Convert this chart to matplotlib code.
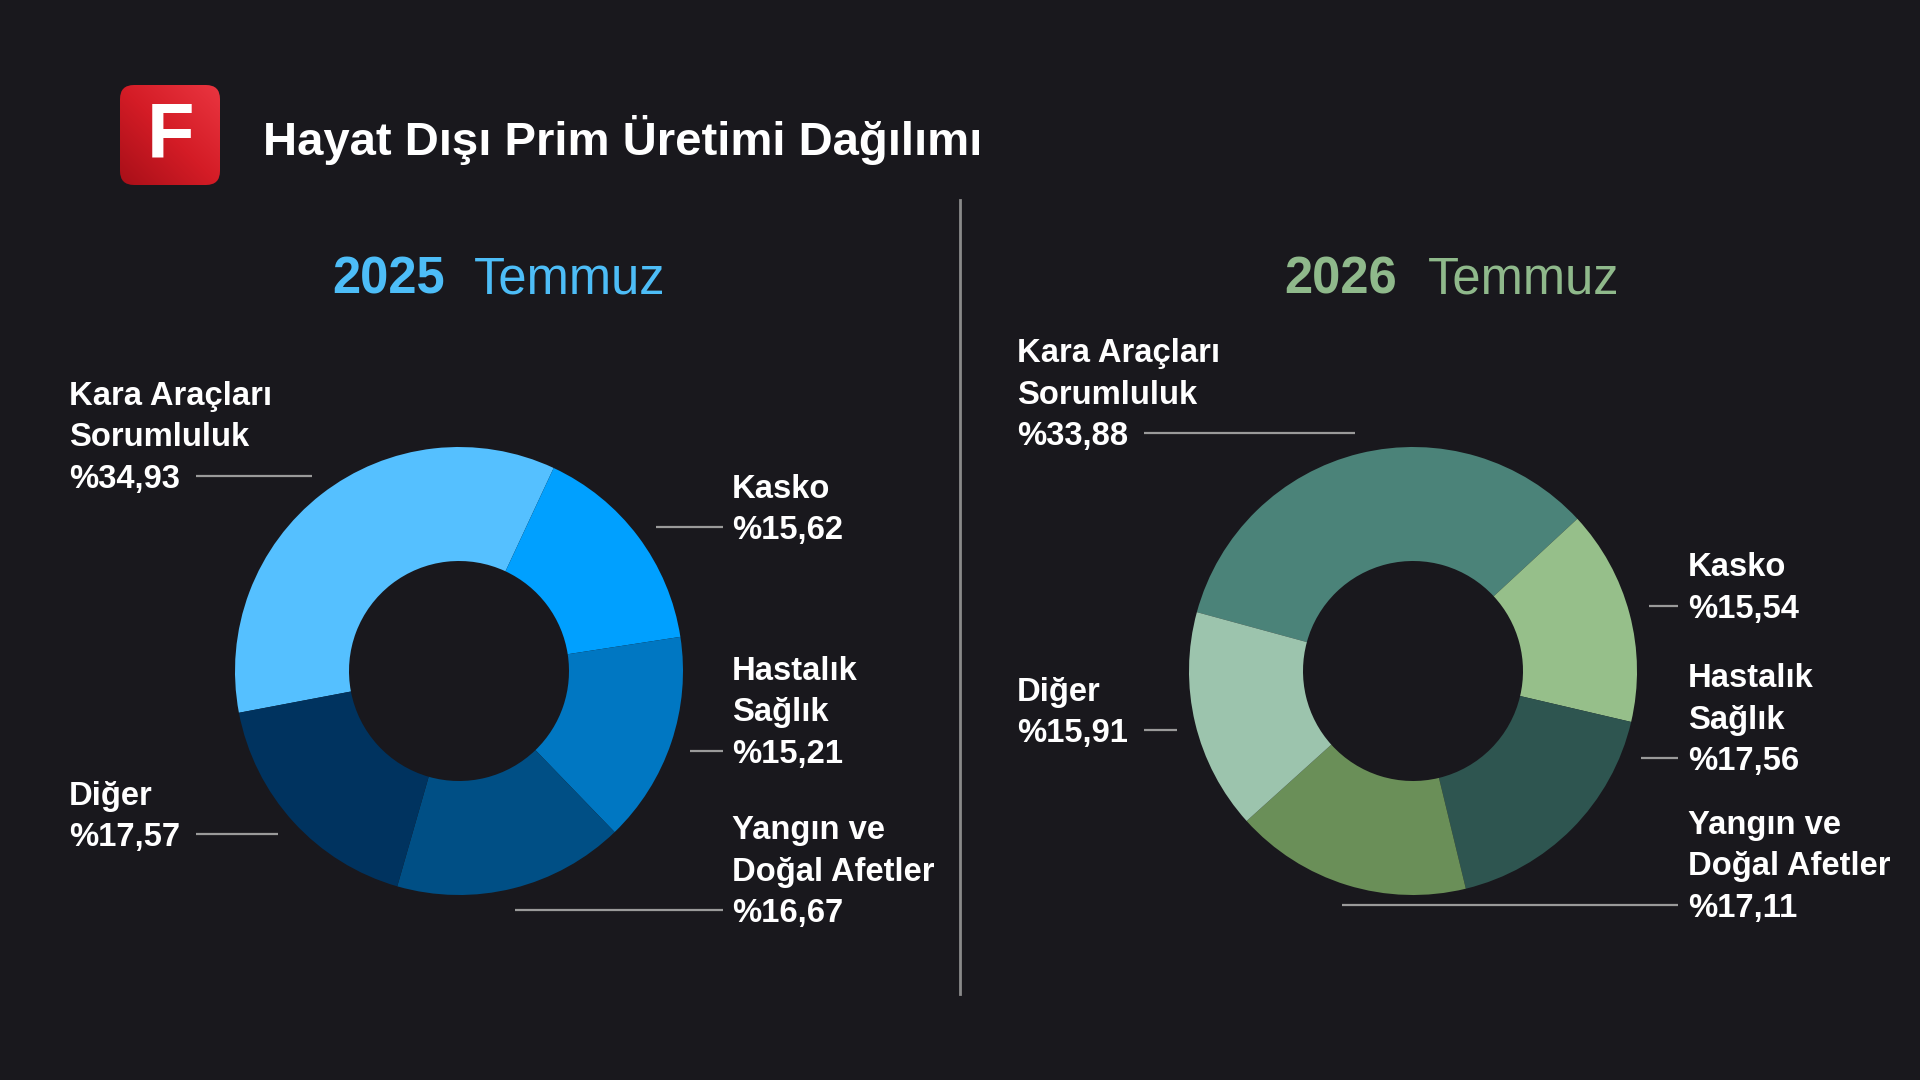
import numpy as np
import matplotlib.pyplot as plt
from matplotlib.patches import FancyBboxPatch

# sayfa ölçüleri (piksel)
W, H = 1920, 1080
BG = '#19181d'

# veriler
kategoriler = ['Kara Araçları\nSorumluluk', 'Kasko', 'Hastalık\nSağlık',
               'Yangın ve\nDoğal Afetler', 'Diğer']
oran_2025 = [34.93, 15.62, 15.21, 16.67, 17.57]
oran_2026 = [33.88, 15.54, 17.56, 17.11, 15.91]
renk_2025 = ['#55c0ff', '#00a0ff', '#0077c2', '#004f85', '#00335f']
renk_2026 = ['#4b8379', '#96bf8a', '#2e5550', '#6a8f58', '#9cc4ad']

# etiket yerleşimi: (metin x, son satır taban çizgisi y, çizgi x0, çizgi x1)
yer_2025 = [(69, 488, 196, 312), (732, 539, 656, 723), (732, 763, 690, 723),
            (732, 922, 515, 723), (69, 846, 196, 278)]
yer_2026 = [(1017, 445, 1144, 1355), (1688, 618, 1649, 1678), (1688, 770, 1641, 1678),
            (1688, 917, 1342, 1678), (1017, 742, 1144, 1177)]

plt.rcParams['font.family'] = ['Liberation Sans', 'DejaVu Sans']

fig = plt.figure(figsize=(W / 100, H / 100), dpi=100, facecolor=BG)
ax = fig.add_axes([0, 0, 1, 1])
ax.set_facecolor(BG)


def py(y):
    # üstten ölçülen pikseli eksen koordinatına çevir
    return H - y


def halka(oranlar, renkler, merkez, baslangic):
    ax.pie(oranlar, colors=renkler, startangle=baslangic, counterclock=False,
           radius=224, center=(merkez[0], py(merkez[1])),
           wedgeprops=dict(width=114, edgecolor='none', linewidth=0), frame=False)


def etiketler(oranlar, yerler):
    for ad, oran, (tx, ty, x0, x1) in zip(kategoriler, oranlar, yerler):
        satirlar = ad.split('\n') + ['%' + f'{oran:.2f}'.replace('.', ',')]
        n = len(satirlar)
        for i, s in enumerate(satirlar):
            yy = ty - (n - 1 - i) * 41.5
            ax.text(tx, py(yy), s, color='white', fontsize=23.6, fontweight='bold',
                    ha='left', va='baseline')
        ax.plot([x0, x1], [py(ty - 12), py(ty - 12)], color='#9a9a9a', lw=1.6,
                solid_capstyle='butt')


# halkalar
halka(oran_2025, renk_2025, (459, 671), 65 + oran_2025[0] * 3.6)
halka(oran_2026, renk_2026, (1413, 671), 42.8 + oran_2026[0] * 3.6)
etiketler(oran_2025, yer_2025)
etiketler(oran_2026, yer_2026)

ax.set_xlim(0, W)
ax.set_ylim(0, H)
ax.set_aspect('equal')
ax.axis('off')

# ayırıcı çizgi
ax.plot([960, 960], [py(200), py(994)], color='#8a8a8a', lw=2)

# logo
kutu = FancyBboxPatch((120 + 14, py(185) + 14), 100 - 28, 100 - 28,
                      boxstyle='round,pad=14', facecolor='none', edgecolor='none')
ax.add_patch(kutu)
gx, gy = np.meshgrid(np.linspace(0, 1, 100), np.linspace(0, 1, 100))
grad = gx * 0.5 + gy * 0.5
logo = ax.imshow(grad, cmap=plt.matplotlib.colors.LinearSegmentedColormap.from_list(
    'kirmizi', ['#a80f18', '#d41c26', '#ea3540']), origin='lower',
    extent=(120, 220, py(185), py(85)), zorder=3)
logo.set_clip_path(kutu)
ax.text(170, py(137), 'F', color='white', fontsize=56, fontweight='bold',
        ha='center', va='center', zorder=4)

# başlık
ax.text(263, py(155), 'Hayat Dışı Prim Üretimi Dağılımı', color='white',
        fontsize=34, fontweight='bold', ha='left', va='baseline')

# yıl başlıkları
ax.text(332, py(293), '2025', color='#4dbdf7', fontsize=36.5, fontweight='bold',
        ha='left', va='baseline')
ax.text(474, py(293), 'Temmuz', color='#4dbdf7', fontsize=36.5, ha='left', va='baseline')
ax.text(1284, py(293), '2026', color='#8fb98b', fontsize=36.5, fontweight='bold',
        ha='left', va='baseline')
ax.text(1428, py(293), 'Temmuz', color='#8fb98b', fontsize=36.5, ha='left', va='baseline')

ax.set_xlim(0, W)
ax.set_ylim(0, H)
fig.savefig('out.png', dpi=100, facecolor=BG)
